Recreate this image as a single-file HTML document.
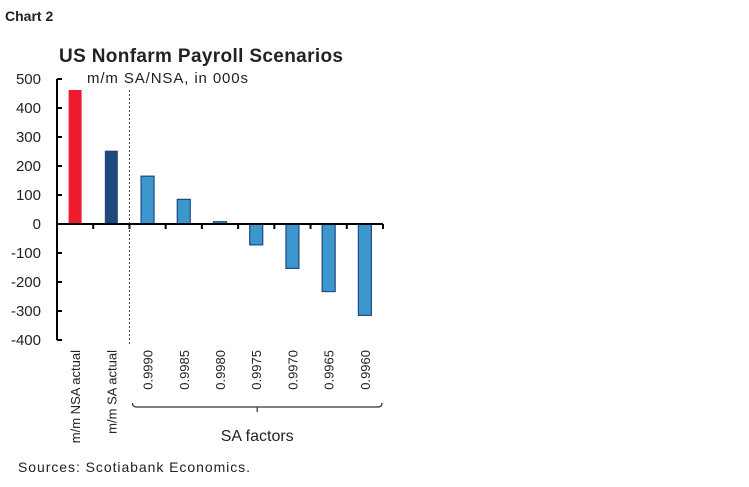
<!DOCTYPE html>
<html><head><meta charset="utf-8"><style>
body{margin:0;background:#fff;}
svg text{font-family:"Liberation Sans",sans-serif;fill:#222;}
</style></head><body>
<svg width="749" height="482" viewBox="0 0 749 482" xmlns="http://www.w3.org/2000/svg" id="chart">
<text x="5" y="21" font-size="14" font-weight="bold" fill="#000">Chart 2</text>
<text x="59" y="62" font-size="19" font-weight="bold" fill="#000" textLength="284">US Nonfarm Payroll Scenarios</text>
<text x="87" y="83" font-size="15" textLength="161">m/m SA/NSA, in 000s</text>
<text x="18" y="472" font-size="14" textLength="232">Sources: Scotiabank Economics.</text>
<g id="plot"></g>
</svg>
<script>
const categories=["m/m NSA actual","m/m SA actual","0.9990","0.9985","0.9980","0.9975","0.9970","0.9965","0.9960"];
const values=[462,253,165,85,8,-72,-153,-233,-315];
const yTicks=[500,400,300,200,100,0,-100,-200,-300,-400];
const colors=["#ed1b2e","#1f497d","#3d97cf","#3d97cf","#3d97cf","#3d97cf","#3d97cf","#3d97cf","#3d97cf"];
const NS="http://www.w3.org/2000/svg";
const g=document.getElementById('plot');
const x0=57,x1=383,yTop=79,yBot=340,vMax=500,vMin=-400;
const slot=(x1-x0)/categories.length;
function y(v){return yTop+(vMax-v)/(vMax-vMin)*(yBot-yTop);}
function xc(i){return x0+slot*(i+0.5);}
function mk(t,a){const e=document.createElementNS(NS,t);for(const k in a)e.setAttribute(k,a[k]);g.appendChild(e);return e;}
values.forEach((v,i)=>{
  const bw=13;
  const r=mk('rect',{x:xc(i)-bw/2,y:Math.min(y(v),y(0)),width:bw,height:Math.abs(y(v)-y(0)),fill:colors[i],stroke:i>=2?"#1f497d":colors[i],'stroke-width':i>=2?1.2:0});
  
  
});
const ya=mk('line',{x1:x0,y1:y(vMax),x2:x0,y2:y(vMin),stroke:"#000",'stroke-width':2});


yTicks.forEach(t=>{
  const tk=mk('line',{x1:x0,y1:y(t),x2:x0+5,y2:y(t),stroke:"#000",'stroke-width':2});
  
  
  const tx=mk('text',{x:41,y:y(t)+5,'font-size':15,'text-anchor':'end'});
  tx.textContent=String(t);
  
  
});
const xa=mk('line',{x1:x0,y1:y(0),x2:x1,y2:y(0),stroke:"#000",'stroke-width':2});


for(let i=1;i<=categories.length;i++){
  const tk=mk('line',{x1:x0+slot*i,y1:y(0),x2:x0+slot*i,y2:y(0)+5,stroke:"#000",'stroke-width':2});
  
  
}
const ds=mk('line',{x1:x0+slot*2,y1:90,x2:x0+slot*2,y2:346,stroke:"#444",'stroke-width':1,'stroke-dasharray':'2,2'});


categories.forEach((c,i)=>{
  const cx=xc(i)+5;
  const tx=mk('text',{x:0,y:0,'font-size':13,'text-anchor':'end',transform:`translate(${cx},350) rotate(-90)`});
  tx.textContent=c;
  
  
});
const bx0=x0+slot*2+3,bx1=x1-1,bm=(bx0+bx1)/2;
const br=mk('path',{d:`M${bx0},403 Q${bx0},407 ${bx0+4},407 L${bx1-4},407 Q${bx1},407 ${bx1},403 M${bm},407 L${bm},412`,fill:"none",stroke:"#333",'stroke-width':1.2});


const st=mk('text',{x:bm,y:441,'font-size':16,'text-anchor':'middle'});
st.textContent="SA factors";


</script>
</body></html>
